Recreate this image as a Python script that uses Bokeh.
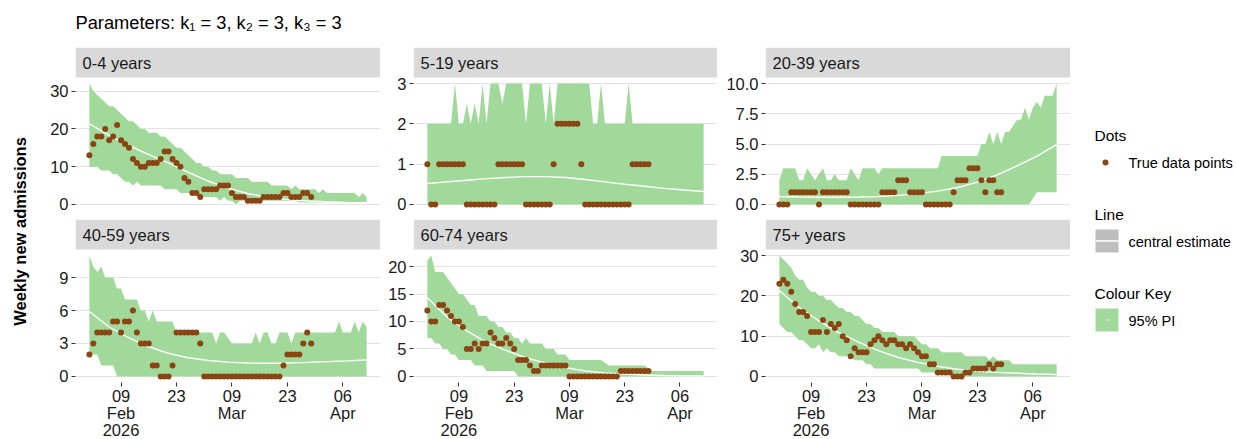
import math
import pandas as pd
from bokeh.plotting import figure
from bokeh.layouts import row, column
from bokeh.models import Range1d, FixedTicker
from bokeh.core.properties import value
from bokeh.embed import file_html
from bokeh.resources import INLINE

# ---------------------------------------------------------------- data
START = "2026-02-01"
N_FORECAST = 71          # forecast horizon (days)
N_OBS = 57               # observed days
CENTRAL_STEP = 5         # central estimate reported every 5 days

groups = ["0-4 years", "5-19 years", "20-39 years",
          "40-59 years", "60-74 years", "75+ years"]

# observed weekly admissions (rolling, one value per day)
obs_0_4 = [13, 16, 18, 18, 20, 17, 18, 21, 17, 16, 15, 12, 11, 10, 10, 11, 11, 11, 12, 14,
           14, 12, 11, 10, 7, 6, 3, 3, 2, 4, 4, 4, 4, 5, 5, 5, 3, 2, 2, 2,
           1, 1, 1, 1, 2, 2, 2, 2, 2, 3, 3, 2, 2, 2, 3, 3, 2]
obs_5_19 = [1, 0, 0, 1, 1, 1, 1, 1, 1, 1, 0, 0, 0, 0, 0, 0, 0, 0, 1, 1,
            1, 1, 1, 1, 1, 0, 0, 0, 0, 0, 0, 0, 1, 2, 2, 2, 2, 2, 2, 1,
            0, 0, 0, 0, 0, 0, 0, 0, 0, 0, 0, 0, 1, 1, 1, 1, 1]
obs_20_39 = [0, 0, 0, 1, 1, 1, 1, 1, 1, 1, 0, 1, 1, 1, 1, 1, 1, 1, 0, 0,
             0, 0, 0, 0, 0, 0, 1, 1, 1, 1, 2, 2, 2, 1, 1, 1, 1, 0, 0, 0,
             0, 0, 0, 0, 1, 2, 2, 2, 3, 3, 3, 2, 1, 2, 2, 1, 1]
obs_40_59 = [2, 3, 4, 4, 4, 4, 5, 5, 4, 5, 5, 6, 4, 3, 3, 3, 1, 1, 0, 0,
             0, 1, 4, 4, 4, 4, 4, 4, 3, 0, 0, 0, 0, 0, 0, 0, 0, 0, 0, 0,
             0, 0, 0, 0, 0, 0, 0, 0, 0, 1, 2, 2, 2, 2, 3, 4, 3]
obs_60_74 = [12, 10, 10, 13, 13, 12, 11, 10, 10, 9, 5, 5, 6, 5, 6, 6, 8, 7, 6, 6,
             7, 6, 5, 3, 3, 3, 2, 1, 1, 2, 2, 2, 2, 2, 2, 2, 0, 0, 0, 0,
             0, 0, 0, 0, 0, 0, 0, 0, 0, 1, 1, 1, 1, 1, 1, 1, 1]
obs_75 = [23, 24, 23, 21, 18, 16, 16, 15, 11, 11, 11, 14, 11, 13, 12, 13, 10, 9, 5, 7,
          6, 6, 6, 8, 9, 10, 9, 8, 9, 9, 8, 8, 7, 8, 7, 6, 5, 5, 3, 3,
          1, 1, 1, 1, 0, 0, 0, 1, 1, 2, 2, 2, 2, 3, 2, 3, 3]

# 95% prediction interval, upper bound (one value per forecast day)
upper_0_4 = [32, 30, 29, 28, 27, 26, 26, 25, 24, 23, 22, 22, 21, 20, 20, 19, 19, 19, 18, 18,
             17, 16, 15, 15, 14, 13, 12, 11, 11, 10, 10, 9, 9, 8, 8, 8, 8, 7, 7, 7,
             7, 6, 6, 6, 6, 6, 5, 5, 5, 5, 5, 4, 5, 4, 4, 4, 4, 4, 3, 4,
             3, 3, 3, 3, 3, 3, 3, 3, 2, 3, 2]
upper_5_19 = [2, 2, 2, 2, 2, 2, 2, 3, 2, 2, 2.5, 2, 2.5, 2, 3, 2, 3, 3, 3, 2.5,
              3, 3, 3, 3, 3, 2, 3, 3, 3, 3, 2, 3, 2, 3, 3, 3, 3, 3, 3, 3,
              3, 3, 2, 2, 3, 2, 2, 2, 2, 2, 2, 3, 2, 2, 2, 2, 2, 2, 2, 2,
              2, 2, 2, 2, 2, 2, 2, 2, 2, 2, 2]
upper_20_39 = [2, 3, 3, 3, 3, 2, 2, 3, 2.5, 2, 2.5, 3, 2, 2, 2.5, 2, 2, 2, 3, 2.5,
               2, 3, 3, 3, 3, 2.5, 3, 3, 3, 3, 3, 3, 3, 3, 3, 3, 3, 3, 3, 3,
               3, 4, 4, 4, 4, 4, 4, 4, 4, 4, 4, 5, 5, 6, 5, 6, 5, 6, 6, 6.5,
               7, 7, 8, 7, 8, 8.5, 8, 9, 9, 9, 10]
upper_40_59 = [11, 10, 9.5, 10, 9, 9, 9, 8, 8, 7, 7, 7, 7, 6, 6, 5, 6, 5, 5, 5,
               5, 5, 4, 4, 4, 4, 4, 4, 4, 4, 4, 4, 3, 4, 4, 3.5, 3, 3, 3, 3,
               3, 3, 4, 3, 4, 4, 3, 3, 4, 4, 4, 3, 4, 4, 4, 4, 4, 4, 4, 4,
               4, 4, 4, 5, 4, 4, 4, 5, 4, 5, 4.5]
upper_60_74 = [21, 22, 19, 19, 19, 18, 17, 16, 15, 15, 14, 13, 13, 11, 11, 11, 10, 10, 9, 9,
               8, 8, 7, 7, 6, 7, 6, 6, 6, 6, 5, 5, 5, 4, 4, 4, 3, 3, 3, 3,
               3, 3, 3, 3, 3, 2.5, 2, 2, 2, 2, 2, 2, 2, 2, 2, 2, 1.5, 1, 1, 1,
               1, 1, 1, 1, 1, 1, 1, 1, 1, 1, 1]
upper_75 = [30, 29, 28, 27, 25, 24, 24, 22, 21, 21, 20, 20, 19, 19, 18, 17, 17, 16, 16, 15,
            15, 14, 13, 13, 12, 12, 11, 11, 11, 11, 10, 10, 10, 10, 10, 9, 8, 8, 7, 7,
            7, 6, 6, 6, 6, 6, 6, 5, 5, 5, 5, 5, 5, 4, 5, 4, 4, 4, 4, 3,
            3, 3, 3, 3, 3, 3, 3, 3, 3, 3, 3]

# 95% prediction interval, lower bound
lower_0_4 = [10, 10, 10, 9, 9, 9, 8, 8, 7, 6, 6, 5, 6, 5, 5, 5, 5, 5, 5, 4,
             4, 4, 4, 3, 3, 3, 3, 3, 2, 2, 2, 2, 2, 1, 2, 1, 1, 0, 1, 1,
             1, 1, 1, 1, 1, 1, 1, 1, 1, 1, 1, 1, 1, 0.5, 0.5, 0.5, 0.5, 0.5, 0.5, 0.5,
             0.5, 0.5, 0.5, 0.5, 0.5, 0.5, 0.5, 0.5, 0.5, 0.5, 0.5]
lower_5_19 = [0] * 71
lower_20_39 = [0, 0, 0, 0, 0, 0, 0, 0, 0, 0, 0, 0, 0, 0, 0, 0, 0, 0, 0, 0,
               0, 0, 0, 0, 0, 0, 0, 0, 0, 0, 0, 0, 0, 0, 0, 0, 0, 0, 0, 0,
               0, 0, 0, 0, 0, 0, 0, 0, 0, 0, 0, 0, 0, 0, 0, 0, 0, 0, 0, 0,
               0, 0, 0, 0, 0.5, 1, 1, 1, 1, 1, 1]
lower_40_59 = [2, 2, 2, 1, 1, 1, 1, 0, 0, 0, 0, 0, 0, 0, 0, 0, 0, 0, 0, 0,
               0, 0, 0, 0, 0, 0, 0, 0, 0, 0, 0, 0, 0, 0, 0, 0, 0, 0, 0, 0,
               0, 0, 0, 0, 0, 0, 0, 0, 0, 0, 0, 0, 0, 0, 0, 0, 0, 0, 0, 0,
               0, 0, 0, 0, 0, 0, 0, 0, 0, 0, 0]
lower_60_74 = [7, 7, 6, 6, 5, 5, 4, 4, 3, 3, 3, 3, 2, 2, 2, 1, 1, 1, 1, 1,
               1, 1, 1, 0, 0, 0, 0, 0, 0, 0, 0, 0, 0, 0, 0, 0, 0, 0, 0, 0,
               0, 0, 0, 0, 0, 0, 0, 0, 0, 0, 0, 0, 0, 0, 0, 0, 0, 0, 0, 0,
               0, 0, 0, 0, 0, 0, 0, 0, 0, 0, 0]
lower_75 = [13, 12, 11, 11, 10, 9, 9, 8, 7, 7, 8, 6, 7, 6, 6, 5, 5, 5, 5, 4,
            4, 4, 3, 3, 2, 2, 2, 2, 2, 2, 2, 2, 2, 2, 2, 2, 1, 1, 1, 1,
            1, 1, 1, 1, 0, 0, 0, 0, 0, 0, 0, 0, 0, 0, 0, 0, 0, 0, 0, 0,
            0, 0, 0, 0, 0, 0, 0, 0, 0, 0, 0]

# central estimate (every 5th forecast day)
central_0_4 = [21.3, 18.3, 15.6, 13.2, 11.0, 8.5, 6.2, 4.3, 2.9, 1.9, 1.3, 0.9, 0.7, 0.55, 0.45]
central_5_19 = [0.52, 0.56, 0.60, 0.64, 0.67, 0.69, 0.69, 0.67, 0.62, 0.56, 0.50, 0.45, 0.40, 0.36, 0.32]
central_20_39 = [0.65, 0.62, 0.60, 0.60, 0.62, 0.66, 0.75, 0.90, 1.1, 1.4, 1.85, 2.45, 3.2, 4.0, 4.95]
central_40_59 = [5.9, 4.5, 3.5, 2.7, 2.1, 1.7, 1.45, 1.3, 1.22, 1.2, 1.22, 1.28, 1.35, 1.42, 1.5]
central_60_74 = [14.3, 10.8, 8.3, 6.2, 4.7, 3.4, 2.4, 1.6, 1.0, 0.66, 0.42, 0.27, 0.17, 0.11, 0.07]
central_75 = [21.3, 17.1, 13.8, 10.9, 8.5, 6.4, 4.7, 3.5, 2.5, 1.8, 1.3, 1.0, 0.8, 0.6, 0.5]

# y-axis ticks per facet
yticks_0_4 = [0, 10, 20, 30]
yticks_5_19 = [0, 1, 2, 3]
yticks_20_39 = [0, 2.5, 5, 7.5, 10]
yticks_40_59 = [0, 3, 6, 9]
yticks_60_74 = [0, 5, 10, 15, 20]
yticks_75 = [0, 10, 20, 30]
ytick_labels_20_39 = ["0.0", "2.5", "5.0", "7.5", "10.0"]

# x-axis ticks (shared)
xtick_dates = ["2026-02-09", "2026-02-23", "2026-03-09", "2026-03-23", "2026-04-06"]
xtick_labels = ["09\nFeb\n2026", "23", "09\nMar", "23", "06\nApr"]

title_text = "Parameters: k\u2081 = 3, k\u2082 = 3, k\u2083 = 3"
ylabel_text = "Weekly new admissions"

series = {
    "0-4 years": (obs_0_4, lower_0_4, upper_0_4, central_0_4, yticks_0_4, None),
    "5-19 years": (obs_5_19, lower_5_19, upper_5_19, central_5_19, yticks_5_19, None),
    "20-39 years": (obs_20_39, lower_20_39, upper_20_39, central_20_39, yticks_20_39, ytick_labels_20_39),
    "40-59 years": (obs_40_59, lower_40_59, upper_40_59, central_40_59, yticks_40_59, None),
    "60-74 years": (obs_60_74, lower_60_74, upper_60_74, central_60_74, yticks_60_74, None),
    "75+ years": (obs_75, lower_75, upper_75, central_75, yticks_75, None),
}

# ---------------------------------------------------------------- styling
FONT = "Liberation Sans"
GREEN = "#A1D99B"
BROWN = "#8B4513"
STRIP = "#D9D9D9"
GRID = "#E3E3E3"
TEXT = "#1A1A1A"

LEFT_BORDER = [40, 33, 48]
FRAME_W = [305, 304, 305]
PANEL_H = 133            # data area height
STRIP_H = 30             # facet label band on top of each panel
TICK_FONT = "16.5px"

forecast_dates = pd.date_range(START, periods=N_FORECAST, freq="D")
obs_dates = forecast_dates[:N_OBS]
central_dates = forecast_dates[::CENTRAL_STEP]

day = pd.Timedelta(days=1)
x_start = forecast_dates[0] - 3.5 * day
x_end = forecast_dates[-1] + 3.5 * day

xtick_ms = [int(pd.Timestamp(d).value // 10**6) for d in xtick_dates]


def base_fig(**kw):
    return figure(toolbar_location=None, output_backend="svg",
                  min_border_left=0, min_border_right=0,
                  min_border_top=0, min_border_bottom=0,
                  outline_line_color=None, border_fill_color="white", **kw)


def panel_fig(label, col, bottom):
    obs, lo, hi, cen, yt, ytl = series[label]
    ymax = max(hi)
    y_lo, y_hi = -0.05 * ymax, 1.05 * ymax
    # extend the range upward so the facet band sits above the data area
    y_top = y_hi + STRIP_H * (y_hi - y_lo) / PANEL_H

    p = base_fig(frame_width=FRAME_W[col], frame_height=PANEL_H + STRIP_H,
                 x_axis_type="datetime",
                 x_range=Range1d(x_start, x_end),
                 y_range=Range1d(y_lo, y_top),
                 background_fill_color="white")
    p.min_border_left = LEFT_BORDER[col]
    p.min_border_bottom = 57 if bottom else 9

    p.xgrid.visible = False
    p.ygrid.grid_line_color = GRID
    p.ygrid.grid_line_width = 1.1
    p.ygrid.ticker = FixedTicker(ticks=yt)

    ya = p.yaxis[0]
    ya.ticker = FixedTicker(ticks=yt)
    if ytl is not None:
        ya.major_label_overrides = dict(zip(yt, ytl))
    xa = p.xaxis[0]
    xa.ticker = FixedTicker(ticks=xtick_ms)
    xa.major_label_overrides = dict(zip(xtick_ms, xtick_labels))
    for ax in (ya, xa):
        ax.axis_line_color = None
        ax.major_tick_out = 4
        ax.major_tick_in = 0
        ax.minor_tick_line_color = None
        ax.major_tick_line_color = "#333333"
        ax.major_label_text_font = FONT
        ax.major_label_text_font_size = TICK_FONT
        ax.major_label_text_color = TEXT
        ax.major_label_standoff = 3
    xa.major_label_standoff = 0
    xa.major_label_text_line_height = 0.95
    if not bottom:
        xa.visible = False

    # facet label band
    p.quad(left=[x_start], right=[x_end], bottom=[y_hi], top=[y_top],
           fill_color=STRIP, line_color=None)
    p.text(x=[x_start], y=[(y_hi + y_top) / 2], text=[label], x_offset=7,
           text_font=value(FONT), text_font_size="16.5px", text_color=TEXT,
           text_baseline="middle", text_align="left")

    p.varea(x=forecast_dates, y1=lo, y2=hi, fill_color=GREEN)
    p.line(x=central_dates, y=cen, line_color="white", line_width=1.4)
    p.scatter(x=obs_dates, y=obs, size=6, fill_color=BROWN, line_color=None)
    return p


cols = []
for c in range(3):
    cols.append(column(panel_fig(groups[c], c, False),
                       panel_fig(groups[c + 3], c, True)))

BODY_H = 2 * (STRIP_H + PANEL_H) + 9 + 57

# y-axis title
ylab = base_fig(frame_width=35, frame_height=BODY_H,
                x_range=Range1d(0, 35), y_range=Range1d(439, 47),
                x_axis_location=None, y_axis_location=None)
ylab.grid.visible = False
ylab.text(x=[19], y=[231], text=[ylabel_text], angle=math.pi / 2,
          text_font=value(FONT), text_font_size="16.5px", text_font_style="bold",
          text_color="black", text_align="center", text_baseline="middle")

# legend column
leg = base_fig(frame_width=166, frame_height=BODY_H,
               x_range=Range1d(1070, 1236), y_range=Range1d(439, 47),
               x_axis_location=None, y_axis_location=None)
leg.grid.visible = False
leg.text(x=[1094, 1094, 1094], y=[135, 214, 293], text=["Dots", "Line", "Colour Key"],
         text_font=value(FONT), text_font_size="15.5px", text_color="black",
         text_baseline="middle")
leg.text(x=[1128, 1128, 1128], y=[162, 241, 320],
         text=["True data points", "central estimate", "95% PI"],
         text_font=value(FONT), text_font_size="14.5px", text_color="black",
         text_baseline="middle")
leg.scatter(x=[1105], y=[162], size=6, fill_color=BROWN, line_color=None)
leg.quad(left=[1095], right=[1118], top=[229], bottom=[252], fill_color="#BEBEBE", line_color=None)
leg.segment(x0=[1095], x1=[1118], y0=[240.5], y1=[240.5], line_color="white", line_width=1.4)
leg.quad(left=[1095], right=[1118], top=[308], bottom=[331], fill_color=GREEN, line_color=None)
leg.scatter(x=[1106.5], y=[319.5], size=1.5, fill_color="white", line_color=None)

# overall title
head = base_fig(frame_width=1236, frame_height=47,
                x_range=Range1d(0, 1236), y_range=Range1d(47, 0),
                x_axis_location=None, y_axis_location=None)
head.grid.visible = False
head.text(x=[75], y=[21.5], text=[title_text], text_font=value(FONT),
          text_font_size="18.3px", text_color="black", text_baseline="middle")

layout = column(head, row(ylab, *cols, leg))

open("out.html", "w").write(file_html(layout, INLINE))
